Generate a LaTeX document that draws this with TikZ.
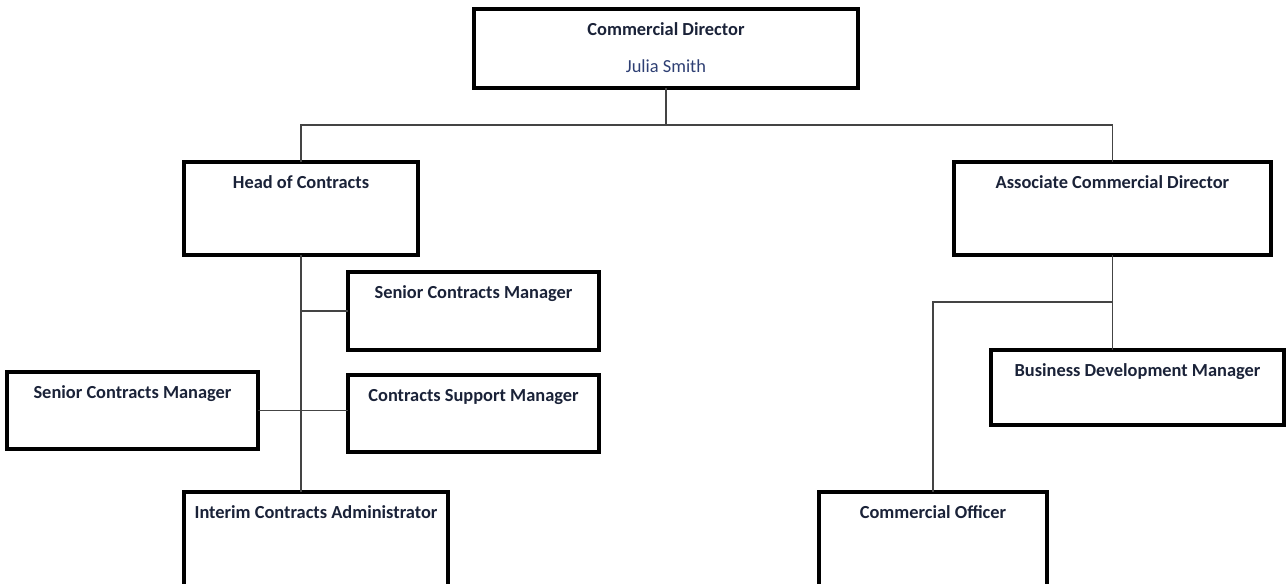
\documentclass[tikz,border=0pt]{standalone}
\usepackage{fontspec}
\setmainfont{Carlito}
\usetikzlibrary{positioning}
\definecolor{titlecolor}{HTML}{1A2238}
\definecolor{namecolor}{HTML}{2E3F73}
\definecolor{linkcolor}{HTML}{444444}

\tikzset{
  post/.style n args={3}{draw=black, line width=2.4pt, minimum width=#1, minimum height=#2,
    inner sep=0pt, outer sep=0pt, label={[title]north:#3}},
  title/.style={anchor=north, yshift=-10.5pt, inner sep=0pt, line width=0pt,
    font=\bfseries\fontsize{13.8}{16}\selectfont, text=titlecolor},
  holder/.style={inner sep=0pt, font=\fontsize{13.8}{16}\selectfont, text=namecolor},
  link/.style={draw=linkcolor, line width=1.2pt}
}

\begin{document}
\begin{tikzpicture}[x=0.75pt, y=-0.75pt]
  \clip (0,0) rectangle (1286,584);

  % boxes
  \node [post={288pt}{59.25pt}{Commercial Director}] (cd) at (666,48.5) {};
  \node [holder] (cdname) at (666,66) {Julia Smith};

  \node [post={175.5pt}{69.75pt}{Head of Contracts}] (hoc) at (301,208.5) {};
  \node [post={237.75pt}{69.75pt}{Associate Commercial Director}] (acd) at (1112.5,208.5) {};

  \node [post={188.25pt}{58.5pt}{Senior Contracts Manager}] (scm1) at (473.5,311) {};
  \node [post={188.25pt}{57.75pt}{Senior Contracts Manager}] (scm2) at (132.5,410.5) {};
  \node [post={188.25pt}{57.75pt}{Contracts Support Manager}] (csm) at (473.5,413.5) {};
  \node [post={198pt}{81pt}{Interim Contracts Administrator}] (ica) at (316,546) {};

  \node [post={219.75pt}{56.25pt}{Business Development Manager}] (bdm) at (1137.5,387.5) {};
  \node [post={171pt}{81pt}{Commercial Officer}] (co) at (933,546) {};

  % connectors
  \coordinate (bus) at (666,125);
  \coordinate (acdbus) at (1112.5,302);
  \draw [link] (cd.south) -- (bus);
  \draw [link] (hoc.north) |- (bus) -| (acd.north);

  \draw [link] (hoc.south) -- (hoc.south |- ica.north);
  \draw [link] (scm1.west) -- (scm1.west -| hoc.south);
  \draw [link] (scm2.east) -- (scm2.east -| csm.west);

  \draw [link] (acd.south) -- (acd.south |- bdm.north);
  \draw [link] (acdbus) -| (co.north);
\end{tikzpicture}
\end{document}
